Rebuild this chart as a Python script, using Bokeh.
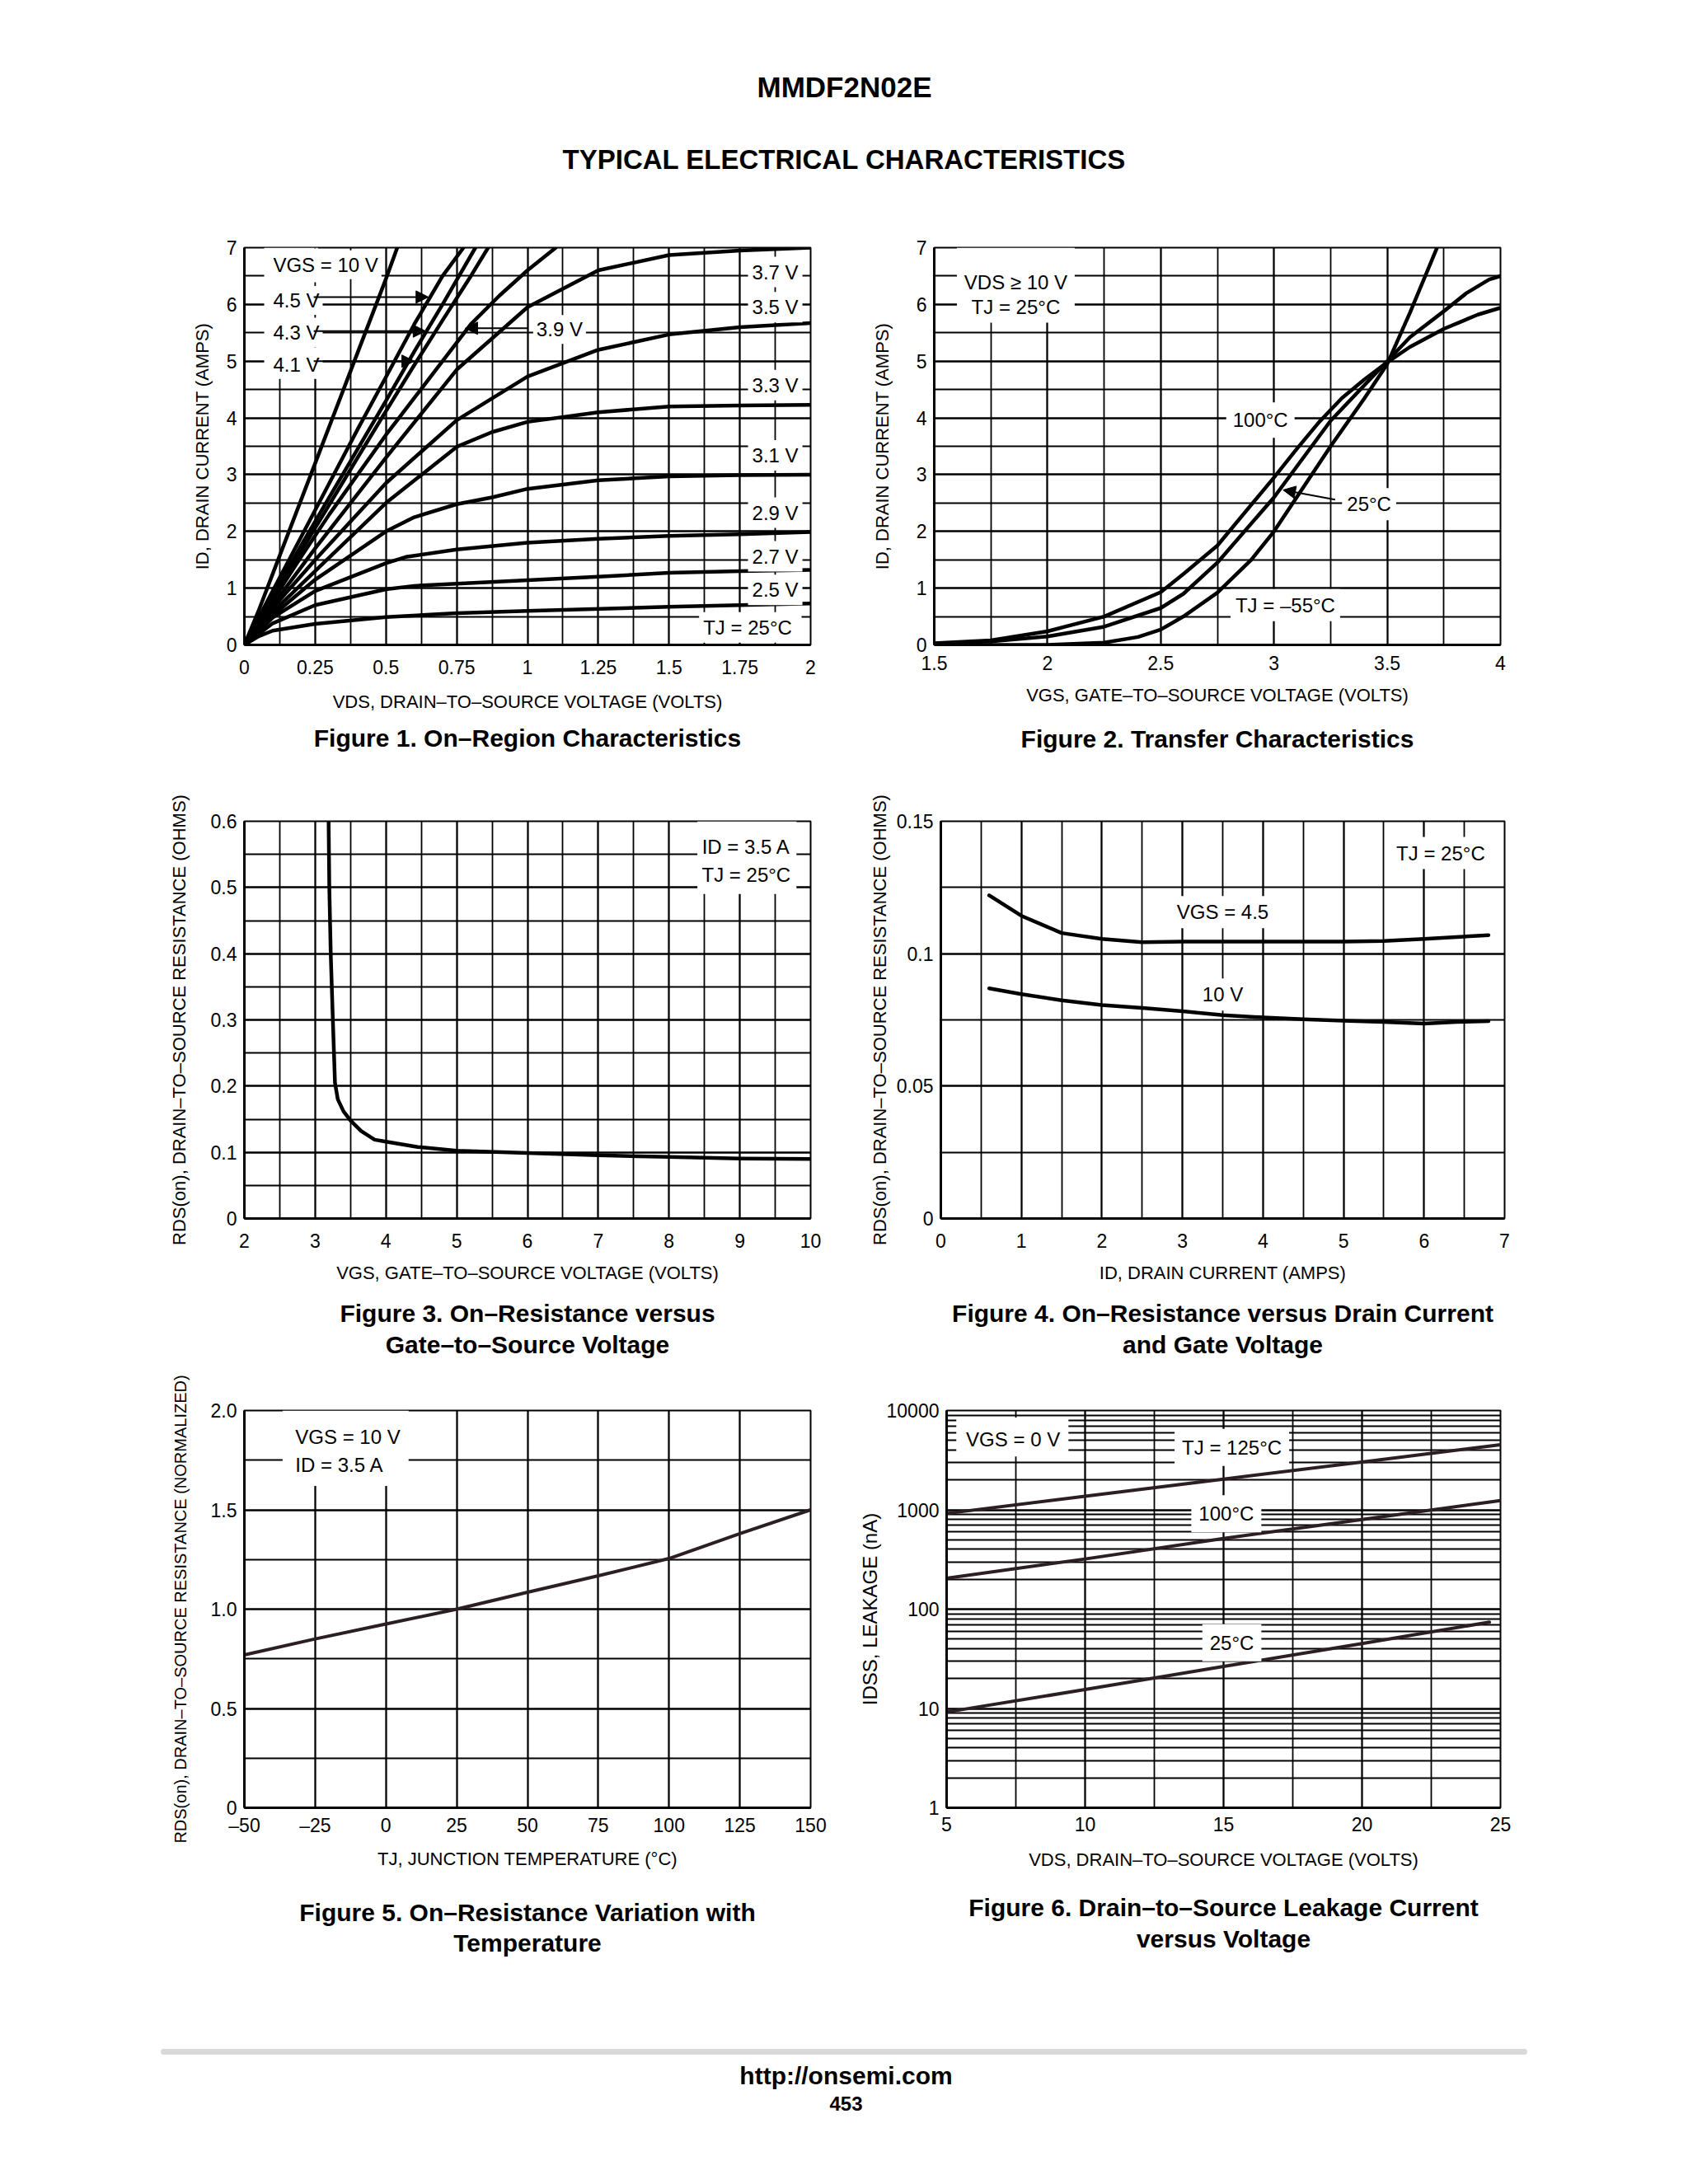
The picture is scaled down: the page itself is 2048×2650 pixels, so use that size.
from bokeh.plotting import figure
from bokeh.layouts import column, row
from bokeh.models import FixedTicker, Label, Arrow, NormalHead, Title
from bokeh.embed import file_html
from bokeh.resources import INLINE
from bokeh.core.properties import value

NARROW = "Liberation Sans Narrow, Liberation Sans"
REG = "Liberation Sans"
LINE2 = "#2b1f24"

# ---------------- Figure 1: On-Region Characteristics ----------------
f1_x_10v = [0, 0.05, 0.1, 0.2, 0.3, 0.4, 0.5, 0.54]
f1_y_10v = [0, 0.6, 1.25, 2.55, 3.85, 5.15, 6.45, 7.0]
f1_x_45v = [0, 0.1, 0.2, 0.3, 0.4, 0.5, 0.6, 0.7, 0.774]
f1_y_45v = [0, 0.95, 1.9, 2.85, 3.8, 4.72, 5.65, 6.5, 7.0]
f1_x_43v = [0, 0.1, 0.2, 0.3, 0.4, 0.5, 0.6, 0.7, 0.816]
f1_y_43v = [0, 0.88, 1.75, 2.6, 3.45, 4.3, 5.17, 6.0, 7.0]
f1_x_41v = [0, 0.1, 0.2, 0.3, 0.4, 0.5, 0.6, 0.7, 0.8, 0.861]
f1_y_41v = [0, 0.83, 1.65, 2.47, 3.3, 4.12, 4.93, 5.72, 6.5, 7.0]
f1_x_39v = [0, 0.1, 0.2, 0.3, 0.4, 0.5, 0.6, 0.7, 0.8, 0.9, 1.0, 1.1]
f1_y_39v = [0, 0.78, 1.55, 2.3, 3.0, 3.7, 4.35, 5.0, 5.65, 6.15, 6.6, 7.0]
f1_x_37v = [0, 0.1, 0.25, 0.5, 0.75, 1.0, 1.25, 1.5, 1.75, 2.0]
f1_y_37v = [0, 0.7, 1.7, 3.3, 4.85, 5.95, 6.6, 6.87, 6.95, 7.0]
f1_x_35v = [0, 0.1, 0.25, 0.5, 0.75, 1.0, 1.25, 1.5, 1.75, 2.0]
f1_y_35v = [0, 0.65, 1.5, 2.85, 3.96, 4.73, 5.2, 5.47, 5.6, 5.67]
f1_x_33v = [0, 0.1, 0.25, 0.5, 0.75, 0.875, 1.0, 1.25, 1.5, 1.75, 2.0]
f1_y_33v = [0, 0.58, 1.3, 2.5, 3.49, 3.75, 3.93, 4.1, 4.2, 4.22, 4.23]
f1_x_31v = [0, 0.1, 0.25, 0.5, 0.6, 0.75, 0.875, 1.0, 1.25, 1.5, 1.75, 2.0]
f1_y_31v = [0, 0.52, 1.15, 2.0, 2.25, 2.48, 2.6, 2.75, 2.9, 2.97, 2.99, 3.0]
f1_x_29v = [0, 0.1, 0.25, 0.5, 0.57, 0.75, 1.0, 1.25, 1.5, 1.75, 2.0]
f1_y_29v = [0, 0.48, 0.95, 1.44, 1.55, 1.68, 1.8, 1.87, 1.92, 1.95, 1.99]
f1_x_27v = [0, 0.1, 0.25, 0.5, 0.6, 0.75, 1.0, 1.25, 1.5, 1.75, 2.0]
f1_y_27v = [0, 0.38, 0.7, 0.98, 1.04, 1.08, 1.14, 1.2, 1.27, 1.3, 1.32]
f1_x_25v = [0, 0.05, 0.1, 0.25, 0.5, 0.75, 1.0, 1.5, 2.0]
f1_y_25v = [0, 0.15, 0.25, 0.37, 0.49, 0.56, 0.6, 0.67, 0.73]
f1_xticks = [0, 0.25, 0.5, 0.75, 1, 1.25, 1.5, 1.75, 2]
f1_xlabels = ["0", "0.25", "0.5", "0.75", "1", "1.25", "1.5", "1.75", "2"]
f1_yticks = [0, 1, 2, 3, 4, 5, 6, 7]
f1_ylabels = ["0", "1", "2", "3", "4", "5", "6", "7"]

# ---------------- Figure 2: Transfer Characteristics ----------------
f2_vgs_100 = [1.5, 1.75, 2.0, 2.25, 2.5, 2.6, 2.75, 3.0, 3.1, 3.2, 3.3, 3.4, 3.5, 3.6, 3.75, 3.9, 4.0]
f2_id_100 = [0.03, 0.08, 0.24, 0.5, 0.93, 1.25, 1.75, 2.95, 3.45, 3.93, 4.35, 4.68, 4.98, 5.25, 5.57, 5.82, 5.94]
f2_vgs_25 = [1.5, 1.75, 2.0, 2.25, 2.5, 2.6, 2.75, 3.0, 3.25, 3.5, 3.6, 3.75, 3.85, 3.95, 4.0]
f2_id_25 = [0.02, 0.06, 0.15, 0.32, 0.65, 0.9, 1.45, 2.6, 3.95, 5.0, 5.42, 5.88, 6.2, 6.44, 6.5]
f2_vgs_m55 = [1.5, 1.75, 2.0, 2.25, 2.4, 2.5, 2.6, 2.75, 2.9, 3.0, 3.1, 3.25, 3.4, 3.5, 3.6, 3.72]
f2_id_m55 = [0.0, 0.0, 0.0, 0.04, 0.14, 0.27, 0.5, 0.92, 1.5, 2.0, 2.6, 3.5, 4.35, 4.95, 5.85, 7.0]
f2_xticks = [1.5, 2, 2.5, 3, 3.5, 4]
f2_xlabels = ["1.5", "2", "2.5", "3", "3.5", "4"]

# ---------------- Figure 3: RDS(on) vs VGS ----------------
f3_vgs = [3.19, 3.2, 3.22, 3.25, 3.28, 3.32, 3.4, 3.5, 3.65, 3.84, 4.0, 4.45, 5.0, 6.0, 7.0, 8.0, 9.0, 10.0]
f3_rds = [0.6, 0.5, 0.4, 0.3, 0.205, 0.18, 0.162, 0.148, 0.132, 0.119, 0.116, 0.108, 0.1025, 0.099, 0.0955, 0.093, 0.0907, 0.09]
f3_xticks = [2, 3, 4, 5, 6, 7, 8, 9, 10]
f3_xlabels = ["2", "3", "4", "5", "6", "7", "8", "9", "10"]
f3_yticks = [0, 0.1, 0.2, 0.3, 0.4, 0.5, 0.6]
f3_ylabels = ["0", "0.1", "0.2", "0.3", "0.4", "0.5", "0.6"]

# ---------------- Figure 4: RDS(on) vs ID ----------------
f4_id_45 = [0.6, 1.0, 1.5, 2.0, 2.5, 3.0, 4.0, 5.0, 5.5, 6.0, 6.8]
f4_r_45 = [0.122, 0.1143, 0.1078, 0.1056, 0.1043, 0.1046, 0.1046, 0.1046, 0.1048, 0.1056, 0.107]
f4_id_10 = [0.6, 1.0, 1.5, 2.0, 2.5, 3.0, 3.5, 4.0, 4.5, 5.0, 5.5, 6.0, 6.4, 6.8]
f4_r_10 = [0.0869, 0.0847, 0.0824, 0.0806, 0.0795, 0.0783, 0.0768, 0.0759, 0.0752, 0.0747, 0.0742, 0.0736, 0.0742, 0.0745]
f4_xticks = [0, 1, 2, 3, 4, 5, 6, 7]
f4_xlabels = ["0", "1", "2", "3", "4", "5", "6", "7"]
f4_yticks = [0, 0.05, 0.1, 0.15]
f4_ylabels = ["0", "0.05", "0.1", "0.15"]

# ---------------- Figure 5: RDS(on) vs temperature ----------------
f5_tj = [-50, -25, 0, 25, 50, 75, 100, 125, 150]
f5_rn = [0.77, 0.85, 0.925, 1.0, 1.085, 1.168, 1.255, 1.38, 1.5]
f5_xticks = [-50, -25, 0, 25, 50, 75, 100, 125, 150]
f5_xlabels = ["\u201350", "\u201325", "0", "25", "50", "75", "100", "125", "150"]
f5_yticks = [0, 0.5, 1, 1.5, 2]
f5_ylabels = ["0", "0.5", "1.0", "1.5", "2.0"]

# ---------------- Figure 6: IDSS vs VDS ----------------
f6_vds = [5, 10, 15, 20, 25]
f6_idss_125 = [920, 1370, 2040, 3030, 4520]
f6_idss_100 = [205, 320, 515, 800, 1240]
f6_vds_25 = [5, 10, 15, 20, 24.6]
f6_idss_25 = [9.2, 15.5, 26.5, 45, 74]
f6_xticks = [5, 10, 15, 20, 25]
f6_xlabels = ["5", "10", "15", "20", "25"]
f6_yticks = [1, 10, 100, 1000, 10000]
f6_ylabels = ["1", "10", "100", "1000", "10000"]


def key(t):
    return int(t) if float(t).is_integer() else t


def steps(a, b, s):
    out, v = [], a
    while v <= b + 1e-9:
        out.append(round(v, 6))
        v += s
    return out


FH = 482


def make_chart(xr, yr, xticks, xlabels, xstep, yticks, ylabels, ystep, xtitle, ytitle,
               caption, bl, fw, br, bt, bb, y_std, xl_std, xa_std, cap_std, gap=None, cap2_std=4,
               ylog=False, yminor=None, ytitle_size="22px"):
    p = figure(width=bl + fw + br, height=bt + FH + bb, x_range=xr, y_range=yr,
               y_axis_type="log" if ylog else "linear", output_backend="svg",
               toolbar_location=None, title=None,
               min_border_left=bl, min_border_right=br, min_border_top=bt, min_border_bottom=bb,
               background_fill_color="white", border_fill_color="white", margin=0)
    p.outline_line_color = "black"
    p.outline_line_width = 2
    p.outline_line_alpha = 1
    xa = p.xaxis[0]
    ya = p.yaxis[0]
    xa.ticker = FixedTicker(ticks=[key(t) for t in xticks], minor_ticks=steps(xr[0], xr[1], xstep))
    ya.ticker = FixedTicker(ticks=[key(t) for t in yticks],
                            minor_ticks=yminor if yminor is not None else steps(yr[0], yr[1], ystep))
    xa.major_label_overrides = {key(t): l for t, l in zip(xticks, xlabels)}
    ya.major_label_overrides = {key(t): l for t, l in zip(yticks, ylabels)}
    for ax in (xa, ya):
        ax.axis_line_width = 3
        ax.axis_line_color = "black"
        ax.major_tick_line_color = None
        ax.minor_tick_line_color = None
        ax.major_tick_in = 0
        ax.major_tick_out = 0
        ax.minor_tick_in = 0
        ax.minor_tick_out = 0
        ax.major_label_text_font = NARROW
        ax.major_label_text_font_size = "23px"
        ax.major_label_text_color = "black"
        ax.axis_label_text_font_style = "normal"
        ax.axis_label_text_color = "black"
    xa.axis_label = xtitle
    xa.axis_label_text_font = NARROW
    xa.axis_label_text_font_size = "22px"
    xa.major_label_standoff = xl_std
    xa.axis_label_standoff = xa_std
    ya.axis_label = ytitle
    ya.axis_label_text_font = REG
    ya.axis_label_text_font_size = ytitle_size
    ya.major_label_standoff = 9
    ya.axis_label_standoff = y_std
    for g in (p.xgrid[0], p.ygrid[0]):
        g.grid_line_color = "black"
        g.grid_line_width = 1.8
        g.grid_line_alpha = 1
        g.minor_grid_line_color = "black"
        g.minor_grid_line_width = 1.8
    if gap is not None:
        # invisible spacer between the axis title and the caption
        p.add_layout(Title(text=" ", text_font_size="1px", text_color="white", standoff=gap), "below")
    for i, line in enumerate(caption):
        p.add_layout(Title(text=line, align="center", text_font=REG, text_font_size="30px",
                           text_font_style="bold", text_color="black",
                           standoff=cap_std if i == 0 else cap2_std), "below")
    return p


def lab(p, x, y, text, align="center", size="24px", bg=True, pad=4):
    kw = dict(x=x, y=y, text=text, text_align=align, text_baseline="middle",
              text_font=NARROW, text_font_size=size, text_color="black")
    if bg:
        kw.update(background_fill_color="white", background_fill_alpha=1.0, padding=pad)
    p.add_layout(Label(**kw))


def arrow(p, x0, y0, x1, y1):
    p.add_layout(Arrow(end=NormalHead(size=15, fill_color="black", line_color="black", line_width=1),
                       x_start=x0, y_start=y0, x_end=x1, y_end=y1,
                       line_color="black", line_width=2))


def curve(p, x, y, color="black", w=4.5):
    p.line(x, y, line_color=color, line_width=w, line_join="round", line_cap="round")


LEFT = dict(bl=296, fw=687, br=55)
RIGHT = dict(bl=95, fw=687, br=220)
RIGHT4 = dict(bl=103, fw=684, br=215)
ROW1 = dict(bt=52, bb=150)
ROW2 = dict(bt=64, bb=185)
ROW3 = dict(bt=48, bb=207)

# ---- Figure 1
p1 = make_chart((0, 2), (0, 7), f1_xticks, f1_xlabels, 0.125, f1_yticks, f1_ylabels, 0.5,
                "VDS, DRAIN\u2013TO\u2013SOURCE VOLTAGE (VOLTS)", "ID, DRAIN CURRENT (AMPS)",
                ["Figure 1. On\u2013Region Characteristics"], y_std=14, xl_std=18, xa_std=18,
                cap_std=21, **LEFT, **ROW1)
p1.quad(left=[0.07], right=[0.26], bottom=[4.72], top=[7.0], fill_color="white", line_color=None)
p1.segment(x0=[0.25], y0=[4.72], x1=[0.25], y1=[7.0], line_color="black", line_width=1.8, line_dash="7 5")
for xs, ys in [(f1_x_10v, f1_y_10v), (f1_x_45v, f1_y_45v), (f1_x_43v, f1_y_43v), (f1_x_41v, f1_y_41v),
               (f1_x_39v, f1_y_39v), (f1_x_37v, f1_y_37v), (f1_x_35v, f1_y_35v), (f1_x_33v, f1_y_33v),
               (f1_x_31v, f1_y_31v), (f1_x_29v, f1_y_29v), (f1_x_27v, f1_y_27v), (f1_x_25v, f1_y_25v)]:
    curve(p1, xs, ys)
lab(p1, 0.09, 6.7, "VGS = 10 V", align="left")
lab(p1, 0.09, 6.07, "4.5 V", align="left")
lab(p1, 0.09, 5.5, "4.3 V", align="left")
lab(p1, 0.09, 4.94, "4.1 V", align="left")
arrow(p1, 0.245, 6.13, 0.65, 6.13)
arrow(p1, 0.245, 5.53, 0.64, 5.53)
arrow(p1, 0.245, 5.0, 0.6, 5.0)
lab(p1, 1.02, 5.56, "3.9 V", align="left")
arrow(p1, 1.0, 5.58, 0.78, 5.58)
for yy, tt in [(6.57, "3.7 V"), (5.95, "3.5 V"), (4.58, "3.3 V"), (3.34, "3.1 V"),
               (2.33, "2.9 V"), (1.56, "2.7 V"), (0.97, "2.5 V")]:
    lab(p1, 1.875, yy, tt, pad=5)
lab(p1, 1.787, 0.31, "TJ =  25\u00b0C", pad=5)

# ---- Figure 2
p2 = make_chart((1.5, 4), (0, 7), f2_xticks, f2_xlabels, 0.25, f1_yticks, f1_ylabels, 0.5,
                "VGS, GATE\u2013TO\u2013SOURCE VOLTAGE (VOLTS)", "ID, DRAIN CURRENT (AMPS)",
                ["Figure 2. Transfer Characteristics"], y_std=26, xl_std=13, xa_std=15,
                cap_std=39, **RIGHT, **ROW1)
p2.quad(left=[1.6], right=[2.12], bottom=[5.68], top=[7.0], fill_color="white", line_color=None)
curve(p2, f2_vgs_100, f2_id_100)
curve(p2, f2_vgs_25, f2_id_25)
curve(p2, f2_vgs_m55, f2_id_m55)
lab(p2, 1.86, 6.39, "VDS \u2265 10 V", bg=False)
lab(p2, 1.86, 5.95, "TJ = 25\u00b0C", bg=False)
lab(p2, 2.94, 3.96, "100\u00b0C", pad=8)
lab(p2, 3.42, 2.48, "25\u00b0C", pad=6)
arrow(p2, 3.27, 2.56, 3.04, 2.73)
lab(p2, 3.05, 0.7, "TJ = \u201355\u00b0C", pad=6)

# ---- Figure 3
p3 = make_chart((2, 10), (0, 0.6), f3_xticks, f3_xlabels, 0.5, f3_yticks, f3_ylabels, 0.05,
                "VGS, GATE\u2013TO\u2013SOURCE VOLTAGE (VOLTS)",
                "RDS(on), DRAIN\u2013TO\u2013SOURCE RESISTANCE (OHMS)",
                ["Figure 3. On\u2013Resistance versus", "Gate\u2013to\u2013Source Voltage"],
                y_std=23, xl_std=18, xa_std=15, cap_std=0, gap=12, cap2_std=6, **LEFT, **ROW2)
p3.quad(left=[8.4], right=[9.8], bottom=[0.49], top=[0.6], fill_color="white", line_color=None)
curve(p3, f3_vgs, f3_rds)
lab(p3, 9.09, 0.561, "ID = 3.5 A", bg=False)
lab(p3, 9.09, 0.519, "TJ = 25\u00b0C", bg=False)

# ---- Figure 4
p4 = make_chart((0, 7), (0, 0.15), f4_xticks, f4_xlabels, 0.5, f4_yticks, f4_ylabels, 0.025,
                "ID, DRAIN CURRENT (AMPS)",
                "RDS(on), DRAIN\u2013TO\u2013SOURCE RESISTANCE (OHMS)",
                ["Figure 4. On\u2013Resistance versus Drain Current", "and Gate Voltage"],
                y_std=5, xl_std=18, xa_std=15, cap_std=0, gap=12, cap2_std=6, **RIGHT4, **ROW2)
curve(p4, f4_id_45, f4_r_45)
curve(p4, f4_id_10, f4_r_10)
lab(p4, 6.24, 0.138, "TJ =  25\u00b0C", pad=6)
lab(p4, 3.5, 0.1157, "VGS = 4.5", pad=6)
lab(p4, 3.5, 0.0846, "10 V", pad=6)

# ---- Figure 5
p5 = make_chart((-50, 150), (0, 2), f5_xticks, f5_xlabels, 25, f5_yticks, f5_ylabels, 0.25,
                "TJ, JUNCTION TEMPERATURE (\u00b0C)",
                "RDS(on), DRAIN\u2013TO\u2013SOURCE RESISTANCE (NORMALIZED)",
                ["Figure 5. On\u2013Resistance Variation with", "Temperature"],
                y_std=23, xl_std=8, xa_std=12, cap_std=0, gap=28, cap2_std=4, ytitle_size="20px",
                **LEFT, **ROW3)
p5.quad(left=[-36.5], right=[8], bottom=[1.62], top=[2.0], fill_color="white", line_color=None)
curve(p5, f5_tj, f5_rn, color=LINE2, w=4)
lab(p5, -32, 1.866, "VGS = 10 V", align="left", bg=False)
lab(p5, -32, 1.727, "ID = 3.5 A", align="left", bg=False)

# ---- Figure 6
f6_minor = [m * d for d in (1, 10, 100, 1000) for m in range(1, 10)] + [10000]
p6 = make_chart((5, 25), (1, 10000), f6_xticks, f6_xlabels, 2.5, f6_yticks, f6_ylabels, None,
                "VDS, DRAIN\u2013TO\u2013SOURCE VOLTAGE (VOLTS)", "IDSS, LEAKAGE (nA)",
                ["Figure 6. Drain\u2013to\u2013Source Leakage Current", "versus Voltage"],
                y_std=4, xl_std=11, xa_std=19, cap_std=0, gap=21, cap2_std=6, ylog=True,
                yminor=f6_minor, ytitle_size="24px", **RIGHT, **ROW3)
p6.quad(left=[5.35], right=[9.4], bottom=[3440], top=[8500], fill_color="white", line_color=None)
curve(p6, f6_vds, f6_idss_125, color=LINE2, w=4)
curve(p6, f6_vds, f6_idss_100, color=LINE2, w=4)
curve(p6, f6_vds_25, f6_idss_25, color=LINE2, w=4)
lab(p6, 7.4, 5130, "VGS = 0 V", bg=False)
lab(p6, 15.3, 4260, "TJ = 125\u00b0C", pad=9)
lab(p6, 15.1, 915, "100\u00b0C", pad=9)
lab(p6, 15.3, 46, "25\u00b0C", pad=9)


# ---- page header and footer
def page_strip(h):
    p = figure(width=2032, height=h, x_range=(0, 2032), y_range=(0, h), output_backend="svg",
               toolbar_location=None, title=None, min_border=0, margin=0,
               background_fill_color="white", border_fill_color="white")
    p.axis.visible = False
    p.grid.visible = False
    p.outline_line_color = None
    return p


header = page_strip(248)
header.text(x=[1024], y=[143], text=["MMDF2N02E"], text_font=value(REG), text_font_size="35px",
            text_font_style="bold", text_align="center", text_baseline="middle", text_color="black")
header.text(x=[1024], y=[55], text=["TYPICAL ELECTRICAL CHARACTERISTICS"], text_font=value(REG),
            text_font_size="33px", text_font_style="bold", text_align="center", text_baseline="middle",
            text_color="black")

footer = page_strip(200)
footer.segment(x0=[198], y0=[111], x1=[1849], y1=[111], line_color="#d9d9d9", line_width=7, line_cap="round")
footer.text(x=[1026], y=[82], text=["http://onsemi.com"], text_font=value(REG), text_font_size="30px",
            text_font_style="bold", text_align="center", text_baseline="middle", text_color="black")
footer.text(x=[1026], y=[48], text=["453"], text_font=value(REG), text_font_size="24px",
            text_font_style="bold", text_align="center", text_baseline="middle", text_color="black")

layout = column(header, row(p1, p2), row(p3, p4), row(p5, p6), footer, spacing=0)

with open("out.html", "w") as f:
    f.write(file_html(layout, INLINE))
